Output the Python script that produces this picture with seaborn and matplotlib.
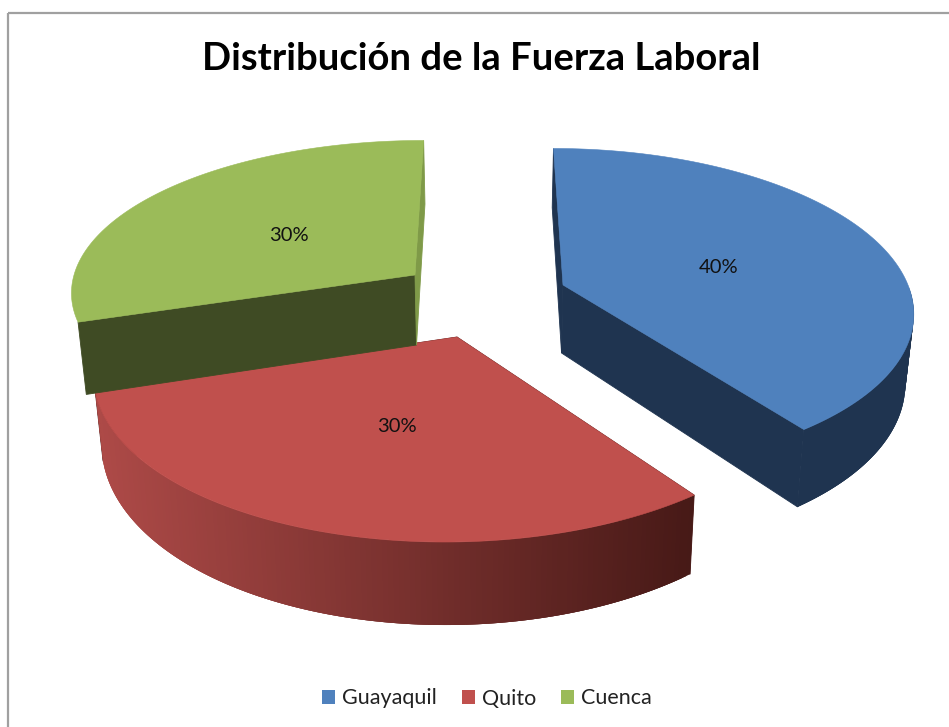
import numpy as np
import matplotlib
matplotlib.use('Agg')
import matplotlib.pyplot as plt
from matplotlib.colors import to_rgb
from matplotlib.patches import Polygon, Rectangle, Patch
import seaborn as sns

# Datos
ciudades = ['Guayaquil', 'Quito', 'Cuenca']
porcentajes = [40, 30, 30]
titulo = 'Distribución de la Fuerza Laboral'

colores_tapa = ['#4F81BD', '#C0504D', '#9BBB59']
colores_lado = ['#1F3450', '#4A1A18', '#3F4B24']

# Geometria del pastel 3D (pixeles de la imagen), una forma por porcion
centros = [(563, 285), (457, 337), (415, 275)]
radio_x = [345, 351, 343]
radio_y = [157, 163, 148]
perspectiva = [0.15, 0.205, 0.10]
altos = [68, 66, 70]
ladeo = [0, -3, 2]
ajuste_x = [-3, 5, 6]
ajuste_y = [6, 4, 3]
X0 = 490
M = 0.02

sns.set_theme(style='white')
plt.rcParams['font.family'] = ['Lato', 'DejaVu Sans']


def proyectar(i, ang, r=1.0, d=0.0):
    """Pasa un punto de la porcion i (angulo en grados) a pixeles con perspectiva."""
    cx, cy = centros[i]
    t = np.radians(ang)
    u, v = r * np.cos(t), r * np.sin(t)
    s = 1 / (1 + perspectiva[i] * v)
    x = X0 + (cx + ladeo[i] * r + radio_x[i] * u - X0) * s * (1 - M * d)
    y = cy - radio_y[i] * v * s + altos[i] * d * s
    return x, y


def mezcla(c1, c2, f):
    return tuple(np.array(c1) * (1 - f) + np.array(c2) * f)


fig = plt.figure(figsize=(9.49, 7.27), dpi=100)
ax = fig.add_axes([0, 0, 1, 1])
ax.set_xlim(0, 949)
ax.set_ylim(727, 0)
ax.axis('off')

# Marco del grafico
ax.add_patch(Rectangle((8, 13), 960, 740, fill=False, ec='#A0A0A0', lw=1.6))

# Angulos de cada porcion a partir de los valores
fin = 90 - np.cumsum(porcentajes) * 3.6
ini = np.r_[90, fin[:-1]]

# orden de dibujo: azul, rojo, verde
for i in [0, 1, 2]:
    arco = np.linspace(ini[i], fin[i], 150)
    lado = to_rgb(colores_lado[i])

    # caras interiores
    for a in [ini[i], fin[i]]:
        cara = [proyectar(i, a, r=0), proyectar(i, a), proyectar(i, a, d=1), proyectar(i, a, r=0, d=1)]
        col = '#7F9A48' if (i == 2 and a == fin[i]) else lado
        ax.add_patch(Polygon(cara, closed=True, fc=col, ec=col, lw=0.6))

    # lado exterior, cada tramo pisa al anterior para que no se vean costuras
    # (solo la parte delantera, el verde no lo muestra)
    if i != 2:
        frente = arco[arco <= 0]
        for j in range(len(frente) - 1):
            a1, a2 = frente[j], frente[min(j + 3, len(frente) - 1)]
            q = [proyectar(i, a1), proyectar(i, a2), proyectar(i, a2, d=1), proyectar(i, a1, d=1)]
            if i == 1:
                f = (proyectar(i, a1)[0] - 97) / (692 - 97)
                col = mezcla((0.68, 0.29, 0.28), (0.28, 0.10, 0.09), np.clip(f, 0, 1))
            else:
                col = lado
            ax.add_patch(Polygon(q, closed=True, fc=col, ec='none'))

    # tapa
    tapa = [proyectar(i, 0, r=0)] + [proyectar(i, a) for a in arco]
    ax.add_patch(Polygon(tapa, closed=True, fc=colores_tapa[i], ec=colores_tapa[i], lw=0.4))

# Etiquetas de porcentaje
for i in range(3):
    x, y = proyectar(i, (ini[i] + fin[i]) / 2, r=0.5)
    ax.text(x + ajuste_x[i], y + ajuste_y[i], f'{porcentajes[i]}%', ha='center', va='center',
            fontsize=14.5, color='#111111')

ax.text(481, 59.5, titulo, ha='center', va='center', fontsize=27.5, fontweight='bold', color='black')

handles = [Patch(fc=c, ec='none', label=n) for c, n in zip(colores_tapa, ciudades)]
ax.legend(handles=handles, loc='center', bbox_to_anchor=(487 / 949, 1 - 698.5 / 727), ncol=3, frameon=False,
          fontsize=15.5, handlelength=0.6, handleheight=0.6, handletextpad=0.33, columnspacing=1.15,
          labelcolor='#222222')

fig.savefig('out.png', dpi=100, facecolor='white')
